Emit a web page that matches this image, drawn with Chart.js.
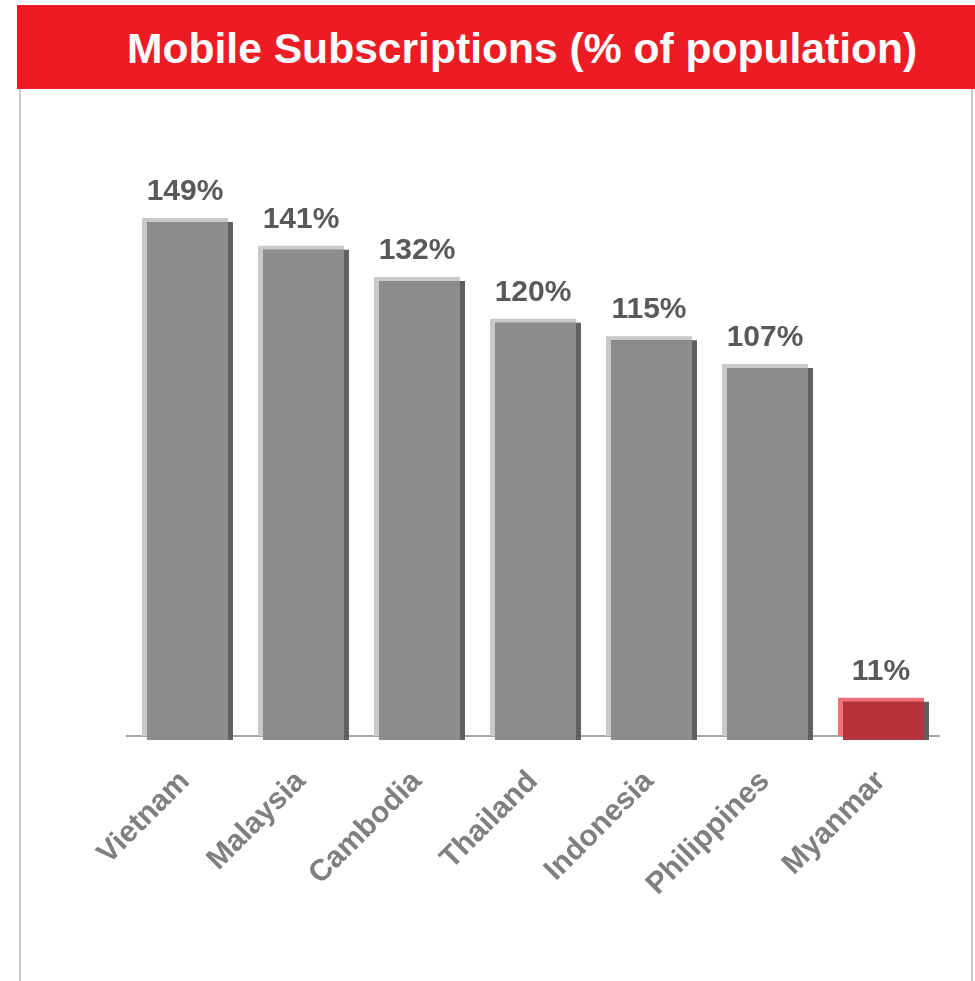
<!DOCTYPE html>
<html>
<head>
<meta charset="utf-8">
<script src="https://cdn.jsdelivr.net/npm/chart.js@4"></script>
<style>
  html, body { margin: 0; padding: 0; background: #fff; }
  body { width: 975px; height: 981px; position: relative; overflow: hidden; font-family: "Liberation Sans", Arial, sans-serif; }
  #titre { position: absolute; left: 17px; top: 5px; width: 958px; height: 84px; background: #ed1c24;
           color: #fff; font-weight: bold; font-size: 42.6px; line-height: 84px; padding-left: 110px; box-sizing: border-box; padding-top: 1px; white-space: nowrap; }
  .bord { position: absolute; top: 89px; bottom: 0; width: 2px; background: #cacaca; }
  #wrap { position: absolute; left: 0; top: 0; width: 975px; height: 981px; }
</style>
</head>
<body>
<div id="titre">Mobile Subscriptions (% of population)</div>
<div class="bord" style="left:19px"></div>
<div class="bord" style="left:971px"></div>
<div id="wrap"><canvas id="grafico"></canvas></div>
<script>
// dados
const paises = ['Vietnam', 'Malaysia', 'Cambodia', 'Thailand', 'Indonesia', 'Philippines', 'Myanmar']
const assinaturas = [149, 141, 132, 120, 115, 107, 11]
const rotulos = assinaturas.map(v => v + '%')

// cores: o último (Myanmar) fica em vermelho
const corClara = paises.map((p, i) => i === paises.length - 1 ? '#f36f78' : '#c9c9c9')
const corMeio = paises.map((p, i) => i === paises.length - 1 ? '#b5323a' : '#8c8c8c')
const corSombra = '#5f5f5f'

// desloca alguns datasets para dar o efeito 3D
const pluginDeslocar = {
    id: 'deslocar',
    beforeDatasetDraw(chart, args) {
        const d = chart.data.datasets[args.index]
        if (d.shift) {
            chart.ctx.save()
            chart.ctx.translate(d.shift[0], d.shift[1])
        }
    },
    afterDatasetDraw(chart, args) {
        if (chart.data.datasets[args.index].shift) chart.ctx.restore()
    }
}

// valores acima das barras
const pluginRotulos = {
    id: 'rotulos',
    afterDatasetsDraw(chart) {
        const ctx = chart.ctx
        const meta = chart.getDatasetMeta(2)
        ctx.save()
        ctx.font = 'bold 30px "Liberation Sans", Arial, sans-serif'
        ctx.fillStyle = '#595959'
        ctx.textAlign = 'center'
        ctx.textBaseline = 'alphabetic'
        meta.data.forEach((bar, i) => {
            ctx.fillText(rotulos[i], bar.x, bar.y - 18)
        })
        ctx.restore()
    }
}

const ctx = document.getElementById('grafico').getContext('2d')
new Chart(ctx, {
    type: 'bar',
    data: {
        labels: paises,
        datasets: [
            { label: 'meio', data: assinaturas, backgroundColor: corMeio, barPercentage: 0.698, shift: [2.5, 4], order: 0 },
            { label: 'sombra', data: assinaturas, backgroundColor: corSombra, barPercentage: 0.741, shift: [5, 4], order: 1 },
            { label: 'claro', data: assinaturas, backgroundColor: corClara, barPercentage: 0.741, order: 2 }
        ]
    },
    options: {
        responsive: true,
        maintainAspectRatio: false,
        animation: false,
        layout: { padding: { left: 127, right: 36, top: 145, bottom: 0 } },
        datasets: { bar: { grouped: false, categoryPercentage: 1, clip: false } },
        plugins: { legend: { display: false }, tooltip: { enabled: false } },
        scales: {
            x: {
                grid: { display: false },
                border: { display: true, color: '#a6a6a6', width: 2 },
                ticks: {
                    color: '#7f7f7f',
                    font: { family: '"Liberation Sans", Arial, sans-serif', size: 30, weight: 'bold' },
                    minRotation: 45, maxRotation: 45, padding: 20
                },
                afterFit: s => { s.height = 245 }
            },
            y: { display: false, min: 0, max: 170 }
        }
    },
    plugins: [pluginDeslocar, pluginRotulos]
})
</script>
</body>
</html>
